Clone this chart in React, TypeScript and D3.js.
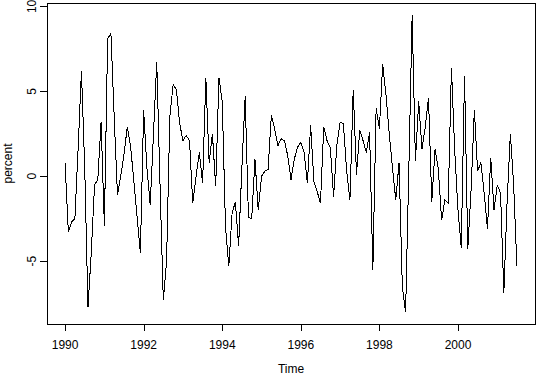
import React from "react";
import * as d3 from "d3";

const startYear = 1990;
const freq = 12;
const values: number[] = [
  0.8, -3.3, -2.7, -2.5, 1.7, 6.2, 0.5, -7.7, -4.5, -0.5, -0.2, 3.2,
  -2.9, 8.1, 8.4, 3.5, -1.1, 0.0, 1.3, 2.9, 1.8, -0.3, -2.4, -4.5,
  3.9, 0.5, -1.7, 2.5, 6.7, -0.5, -7.3, -5.0, 3.5, 5.4, 5.1, 3.1,
  2.1, 2.4, 2.1, -1.6, 0.0, 1.4, -0.4, 5.8, 0.8, 2.5, -0.6, 5.8,
  4.4, -3.0, -5.3, -2.2, -1.5, -4.1, 0.5, 4.7, -2.4, -2.5, 1.0, -2.0,
  0.0, 0.3, 0.4, 3.6, 2.8, 1.8, 2.2, 2.1, 1.2, -0.2, 1.0, 1.7,
  2.0, 1.4, -0.4, 3.0, -0.3, -0.9, -1.6, 2.9, 2.1, 1.7, -1.2, 1.8,
  3.2, 3.1, 0.3, -1.4, 5.1, 0.1, 2.7, 2.1, 1.4, 2.6, -5.5, 4.0,
  2.8, 6.6, 4.8, 2.5, 0.5, -1.4, 0.8, -6.5, -8.0, 0.5, 9.5, 0.9,
  4.4, 1.6, 2.9, 4.6, -1.5, 1.6, 0.4, -2.6, -1.4, -1.6, 6.4, 1.5,
  -2.0, -4.2, 5.9, -4.3, -0.8, 3.9, 0.3, 0.8, -1.0, -3.1, 1.1, -2.0,
  -0.5, -1.0, -6.9, -1.5, 2.5, -0.5, -5.3,
];
const xTicks = [1990, 1992, 1994, 1996, 1998, 2000];
const yTicks = [-5, 0, 5, 10];
const xLabel = "Time";
const yLabel = "percent";

export default function App() {
  const W = 540;
  const H = 375;
  const left = 47, right = 535, top = 3, bottom = 324;
  const times = values.map((_, i) => startYear + i / freq);
  const [tmin, tmax] = d3.extent(times) as [number, number];
  const [vmin, vmax] = d3.extent(values) as [number, number];
  const tr = tmax - tmin;
  const vr = vmax - vmin;
  const x = d3.scaleLinear().domain([tmin - 0.04 * tr, tmax + 0.04 * tr]).range([left, right]);
  const y = d3.scaleLinear().domain([vmin - 0.04 * vr, vmax + 0.04 * vr]).range([bottom, top]);
  const line = d3.line<number>().x((_, i) => x(times[i])).y((d) => y(d));
  const font = "'Liberation Sans', Arial, Helvetica, sans-serif";
  const ya = (v: number) => Math.round(y(v)) + 0.5;
  const xa = (v: number) => Math.round(x(v)) + 0.5;
  return (
    <svg width={W} height={H} style={{ position: "fixed", left: 0, top: 0, background: "#fff" }} fontFamily={font}>
      <rect x={0} y={0} width={W} height={H} fill="#fff" />
      <path d={line(values) || ""} fill="none" stroke="#000" strokeWidth={1} shapeRendering="crispEdges" />
      <rect x={left + 0.5} y={top + 0.5} width={right - left} height={bottom - top} fill="none" stroke="#000" strokeWidth={1} shapeRendering="crispEdges" />
      {xTicks.map((t) => (
        <g key={t}>
          <line x1={xa(t)} x2={xa(t)} y1={bottom} y2={bottom + 7} stroke="#000" shapeRendering="crispEdges" />
          <text x={x(t)} y={349} fontSize={12} textAnchor="middle" fill="#000">{t}</text>
        </g>
      ))}
      {yTicks.map((t) => (
        <g key={t}>
          <line x1={left - 7} x2={left} y1={ya(t)} y2={ya(t)} stroke="#000" shapeRendering="crispEdges" />
          <text transform={`translate(36,${y(t)}) rotate(-90)`} fontSize={12} textAnchor="middle" fill="#000">{t}</text>
        </g>
      ))}
      <text x={(left + right) / 2} y={373} fontSize={12} textAnchor="middle" fill="#000">{xLabel}</text>
      <text transform={`translate(12,${(top + bottom) / 2}) rotate(-90)`} fontSize={12} textAnchor="middle" fill="#000">{yLabel}</text>
    </svg>
  );
}
